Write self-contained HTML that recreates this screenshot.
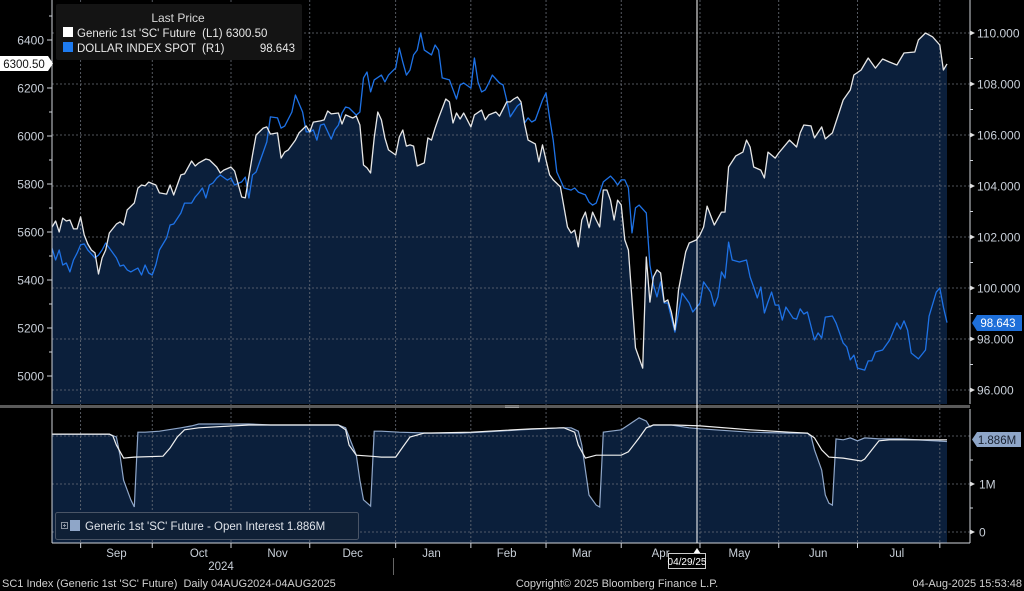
<!DOCTYPE html>
<html><head><meta charset="utf-8">
<style>
html,body{margin:0;padding:0;background:#000;}
svg{display:block;font-family:"Liberation Sans",sans-serif;}
</style></head>
<body>
<svg id="chart" width="1024" height="591" viewBox="0 0 1024 591" xmlns="http://www.w3.org/2000/svg">
<defs>
<clipPath id="topClip"><rect x="52" y="0" width="918" height="404"/></clipPath>
<clipPath id="botClip"><rect x="52" y="409" width="918" height="134"/></clipPath>
</defs>
<rect x="0" y="0" width="1024" height="591" fill="#000"/>
<g id="topSeries" clip-path="url(#topClip)"></g>
<g id="botSeries" clip-path="url(#botClip)"></g>
<g id="axes"></g>
<rect x="0" y="405" width="970" height="3" fill="#5a5a5a"/>
<rect x="505" y="405.5" width="14" height="0.8" fill="#aaa"/>
<rect x="505" y="407" width="14" height="0.8" fill="#aaa"/>
<line x1="697" y1="0" x2="697" y2="543" stroke="#fff" stroke-width="1"/>

<g>
<rect x="56" y="4" width="246" height="56" fill="#141414" rx="2"/>
<text x="178" y="22" fill="#d8d8d8" font-size="12" text-anchor="middle">Last Price</text>
<rect x="63" y="27" width="10" height="10" fill="#fff"/>
<text x="77" y="37" fill="#e8e8e8" font-size="11.5" xml:space="preserve">Generic 1st 'SC' Future  (L1) 6300.50</text>
<rect x="63" y="42" width="10" height="10" fill="#1e7bf0"/>
<text x="77" y="52" fill="#e8e8e8" font-size="11.5" xml:space="preserve">DOLLAR INDEX SPOT  (R1)</text>
<text x="295" y="52" fill="#e8e8e8" font-size="11.5" text-anchor="end">98.643</text>
</g>

<g>
<rect x="55.5" y="512.5" width="303" height="27" fill="#0f2036" stroke="#4a5566" rx="2"/>
<rect x="61.5" y="522.5" width="6" height="6" fill="none" stroke="#8a93a0"/>
<line x1="63" y1="525.5" x2="66" y2="525.5" stroke="#8a93a0"/>
<line x1="64.5" y1="524" x2="64.5" y2="527" stroke="#8a93a0"/>
<rect x="70" y="520" width="10" height="11" fill="#8fa6c8"/>
<text x="85" y="530" fill="#e0e4ea" font-size="11.5">Generic 1st 'SC' Future - Open Interest 1.886M</text>
</g>

<g>
<path d="M0,56 H48 L53,63.5 L48,71 H0 Z" fill="#fff"/>
<text x="24" y="68" fill="#111" font-size="11.5" text-anchor="middle">6300.50</text>
<path d="M977,315 H1022 V331 H977 L972,323 Z" fill="#1e6fd9"/>
<text x="998" y="327" fill="#fff" font-size="11.5" text-anchor="middle">98.643</text>
<path d="M977,432 H1021 V447 H977 L972,439.5 Z" fill="#8fa6c8"/>
<text x="997" y="444" fill="#1a2230" font-size="11.5" text-anchor="middle">1.886M</text>
</g>

<g>
<path d="M693,554 L697,548 L701,554 Z" fill="#fff"/>
<rect x="668.5" y="553.5" width="37" height="15" fill="#000" stroke="#ccc"/>
<text x="687" y="565" fill="#fff" font-size="10" text-anchor="middle">04/29/25</text>
</g>
<line x1="393.5" y1="558" x2="393.5" y2="575" stroke="#666"/>
<text x="221" y="570" fill="#c8cfd8" font-size="11.5" text-anchor="middle">2024</text>

<g>
<text x="2" y="587" fill="#d0d0d0" font-size="11" xml:space="preserve">SC1 Index (Generic 1st 'SC' Future)  Daily 04AUG2024-04AUG2025</text>
<text x="617" y="587" fill="#d0d0d0" font-size="11" text-anchor="middle">Copyright© 2025 Bloomberg Finance L.P.</text>
<text x="1022" y="587" fill="#d0d0d0" font-size="11" text-anchor="end">04-Aug-2025 15:53:48</text>
</g>
</svg>

<script>
// ---- data ----
const scSessions = [0,1,2,3,4,5,6,7,8,9,10,11,12,13,14,15,16,18,19,20,21,23,24,25,26,27,29,30,32,33,34,36,37,39,40,41,43,44,46,47,48,50,51,53,54,56,57,59,60,61,63,64,65,66,68,69,71,72,73,75,76,77,78,80,81,82,84,85,86,87,88,89,90,91,92,93,94,96,97,98,99,100,101,102,104,105,106,107,108,110,111,112,113,114,115,117,118,120,121,122,124,125,127,128,129,130,131,132,133,135,136,137,138,139,140,142,144,145,146,147,148,149,150,151,152,153,154,155,156,157,158,159,160,161,163,165,166,167,168,169,170,171,172,173,174,175,177,178,180,181,182,183,185,187,188,189,191,193,194,195,196,198,199,200,202,203,206,208,209,210,212,213,215,216,218,221,223,224,226,228,230,232,234,236,238,241,242,244,246,248,249,250];
const scValues = [5620,5646,5600,5658,5646,5650,5613,5613,5663,5588,5550,5525,5513,5425,5492,5525,5596,5633,5642,5629,5692,5721,5783,5796,5792,5808,5796,5763,5758,5796,5754,5838,5842,5896,5875,5888,5904,5900,5871,5846,5858,5871,5854,5746,5742,5921,6004,6033,6038,6008,6013,5908,5933,5942,5983,6013,6042,6017,6058,6063,6067,6104,6092,6096,6050,6088,6075,6083,6046,5879,5867,5846,5992,6100,6067,5992,5942,5921,5996,6025,5958,5963,5958,5875,5888,5992,5983,6033,6075,6154,6142,6054,6096,6071,6096,6038,6088,6108,6067,6088,6100,6083,6142,6142,6154,6163,6142,6050,5983,5967,5892,5963,5900,5838,5817,5788,5621,5596,5608,5538,5650,5683,5617,5683,5650,5621,5775,5775,5733,5650,5733,5713,5567,5525,5117,5033,5496,5308,5413,5442,5429,5308,5317,5267,5192,5358,5517,5554,5567,5588,5621,5708,5629,5683,5683,5871,5917,5933,5983,5954,5871,5858,5825,5933,5908,5929,5983,5954,6013,6046,6042,5992,6038,5988,6013,6150,6192,6254,6275,6325,6283,6321,6308,6296,6346,6350,6400,6429,6413,6379,6275,6300.5];

const dxySessions = [0,1,2,3,4,5,6,7,8,9,10,12,13,14,15,16,18,19,20,21,22,23,24,25,26,27,28,29,30,32,33,34,36,37,39,40,41,42,43,44,45,46,47,49,50,51,53,54,55,56,57,59,60,61,63,64,65,67,68,70,71,72,73,74,75,76,78,79,80,81,82,83,85,86,87,88,89,90,92,93,94,96,97,98,99,100,101,102,103,104,106,107,108,109,111,113,114,115,117,118,119,120,121,122,123,125,126,127,128,130,131,132,133,134,135,137,138,139,140,141,142,143,145,146,147,149,150,151,152,153,154,156,157,158,159,160,161,162,163,164,166,167,168,169,170,171,172,174,176,178,179,181,182,184,185,186,187,188,189,190,192,194,195,196,197,198,199,200,201,202,203,204,205,207,208,209,210,211,213,214,215,216,218,219,221,222,223,224,225,227,228,229,230,232,234,236,237,238,239,240,242,244,245,247,248,249,250];
const dxyValues = [101.57,101.10,101.49,100.90,100.98,100.63,101.10,101.37,101.69,101.73,101.49,101.18,101.29,101.49,101.76,101.57,101.18,100.86,100.90,100.71,100.63,100.71,100.78,100.51,100.90,100.59,100.51,100.90,101.49,101.96,102.47,102.51,102.94,103.33,103.33,103.57,103.73,103.92,103.53,104.04,104.12,104.31,104.43,104.23,104.31,104.04,104.16,104.35,103.53,104.43,104.55,105.33,105.73,106.71,106.67,106.27,106.35,106.90,107.57,106.90,106.12,106.12,106.20,105.80,106.39,106.43,105.84,106.20,106.39,106.86,107.10,107.06,106.78,106.90,108.24,108.47,107.69,108.16,108.35,108.08,108.35,108.63,109.41,108.86,108.35,108.55,109.14,109.33,110.00,109.33,109.14,109.53,109.33,108.24,108.16,107.41,107.96,108.04,107.84,109.02,108.08,107.69,107.77,108.04,108.35,108.04,107.96,107.37,106.71,107.14,107.25,106.47,106.67,106.51,106.59,107.37,107.65,106.67,105.80,104.55,104.24,103.92,103.84,103.92,103.76,103.65,103.37,103.25,103.33,103.73,104.16,104.39,104.24,104.04,104.24,104.24,103.92,102.16,103.14,103.25,102.94,100.90,100.12,99.65,100.24,99.41,99.41,98.27,99.80,99.41,99.06,99.41,100.24,99.84,99.29,99.65,100.63,100.39,101.80,101.10,101.02,101.10,100.43,100.04,99.61,100.04,99.02,99.45,99.84,99.33,99.33,98.74,99.25,98.82,98.78,99.18,98.98,99.06,97.96,98.24,98.04,98.86,98.90,98.63,97.84,97.69,97.18,97.37,96.86,96.78,97.14,97.14,97.49,97.57,97.96,98.63,98.39,98.71,98.35,97.45,97.22,97.57,98.90,99.84,100.00,99.25,98.643];

const oiSessions = [0,16,18,19,20,22,23,24,26,30,36,39,41,55,61,69,80,82,83,85,86,87,89,90,92,97,106,114,120,131,142,145,147,148,149,150,152,153,154,156,159,161,164,166,167,168,173,178,181,195,206,211,212,213,215,216,217,218,219,221,223,225,227,231,237,250];
const oiValues = [2.04,2.04,1.98,1.60,1.08,0.67,0.52,2.08,2.08,2.10,2.17,2.21,2.25,2.25,2.23,2.23,2.23,2.17,1.98,1.60,1.08,0.67,0.54,2.10,2.10,2.08,2.06,2.06,2.08,2.13,2.17,2.17,2.10,1.81,1.29,0.77,0.56,0.52,2.08,2.10,2.13,2.23,2.38,2.31,2.19,2.23,2.23,2.17,2.15,2.08,2.06,2.06,2.00,1.71,1.29,0.77,0.60,0.56,1.94,1.92,1.96,1.90,1.96,1.94,1.94,1.886];

const avgSessions = [0,16,17,18,20,23,31,33,35,37,41,55,80,82,83,85,89,92,96,98,100,104,117,134,143,146,147,149,152,159,161,164,166,168,174,181,195,206,211,213,215,217,221,226,227,229,231,234,250];
const avgValues = [2.04,2.04,2.00,1.81,1.54,1.56,1.58,1.75,1.98,2.13,2.17,2.23,2.23,2.13,1.81,1.60,1.58,1.56,1.56,1.77,1.98,2.06,2.08,2.15,2.17,2.08,1.81,1.54,1.60,1.60,1.67,1.96,2.17,2.23,2.23,2.21,2.13,2.08,2.06,1.96,1.71,1.56,1.54,1.48,1.52,1.71,1.90,1.92,1.92];

const monthLabels = ["Sep","Oct","Nov","Dec","Jan","Feb","Mar","Apr","May","Jun","Jul"];
const monthLabelSessions = [18,41,63,84,106,127,148,170,192,214,236];
const gridSessions = [8,28,50,72,96,117,138,159,181,203,225,248];
const leftTicks = [5000,5200,5400,5600,5800,6000,6200,6400];
const rightTicks = [96,98,100,102,104,106,108,110];
const oiTicks = [0,1];
const oiTickLabels = ["0","1M"];

// ---- scales ----
const NS = "http://www.w3.org/2000/svg";
const xS = i => 52 + i * 3.58;
const yL = v => 40 + (6400 - v) * 0.24;
const yR = v => 33 + (110 - v) * 25.5;
const yO = v => 532 - v * 48;

function mk(tag, attrs, parent){
  const e = document.createElementNS(NS, tag);
  for (const k in attrs) e.setAttribute(k, attrs[k]);
  parent.appendChild(e);
  return e;
}
function linePath(sess, vals, ys){
  const len = Math.min(sess.length, vals.length);
  let d = "";
  for (let i = 0; i < len; i++) d += (i ? "L" : "M") + xS(sess[i]).toFixed(1) + "," + ys(vals[i]).toFixed(1);
  return d;
}
function lastX(sess, vals){ return xS(sess[Math.min(sess.length, vals.length) - 1]); }

const topG = document.getElementById("topSeries");
const botG = document.getElementById("botSeries");
const axesG = document.getElementById("axes");

// top panel SC area
const scArea = mk("path", {d: linePath(scSessions, scValues, yL) + "L" + lastX(scSessions, scValues) + ",404L" + xS(scSessions[0]) + ",404Z", fill:"#0b1f3b"}, topG);



// bottom panel OI area
const oiArea = mk("path", {d: linePath(oiSessions, oiValues, yO) + "L" + lastX(oiSessions, oiValues) + ",543L" + xS(oiSessions[0]) + ",543Z", fill:"#0b1f3b"}, botG);



// gridlines
const gridLayer = mk("g", {}, axesG);


gridSessions.forEach(s => {
  const gl = mk("line", {x1:xS(s), x2:xS(s), y1:0, y2:543, stroke:"#6a6f78", "stroke-width":0.8, "stroke-dasharray":"2,2"}, gridLayer);
  
  
});
rightTicks.forEach(v => {
  const gl = mk("line", {x1:52, x2:970, y1:yR(v), y2:yR(v), stroke:"#6a6f78", "stroke-width":0.8, "stroke-dasharray":"2,2"}, gridLayer);
  
  
});
[0,1,2].forEach(v => {
  const gl = mk("line", {x1:52, x2:970, y1:yO(v), y2:yO(v), stroke:"#6a6f78", "stroke-width":0.8, "stroke-dasharray":"2,2"}, gridLayer);
  
  
});

// lines
const lineLayer = mk("g", {"clip-path":"url(#topClip)"}, axesG);
const dxyLine = mk("path", {d: linePath(dxySessions, dxyValues, yR), fill:"none", stroke:"#1e72e6", "stroke-width":1.3, "stroke-linejoin":"round"}, lineLayer);


const scLine = mk("path", {d: linePath(scSessions, scValues, yL), fill:"none", stroke:"#e6e6e6", "stroke-width":1.3, "stroke-linejoin":"round"}, lineLayer);



const botLines = mk("g", {"clip-path":"url(#botClip)"}, axesG);
const oiLine = mk("path", {d: linePath(oiSessions, oiValues, yO), fill:"none", stroke:"#8fa6c8", "stroke-width":1.2}, botLines);


const avgLine = mk("path", {d: linePath(avgSessions, avgValues, yO), fill:"none", stroke:"#f0f0f0", "stroke-width":1.2}, botLines);



// axis lines
[[52,0,52,404],[970,0,970,404],[52,409,52,543],[970,409,970,543],[52,543,970,543]].forEach(c => {
  const al = mk("line", {x1:c[0], y1:c[1], x2:c[2], y2:c[3], stroke:"#cfd3da", "stroke-width":1}, axesG);
  
  
});

// left axis
leftTicks.forEach(v => {
  const y = yL(v);
  mk("line", {x1:47, x2:52, y1:y, y2:y, stroke:"#cfd3da"}, axesG);
  const t = mk("text", {x:44, y:y+4.5, fill:"#c8cfd8", "font-size":12, "text-anchor":"end"}, axesG);
  t.textContent = v;
  
  
  const ym = yL(v + 100);
  mk("line", {x1:49, x2:52, y1:ym, y2:ym, stroke:"#cfd3da"}, axesG);
});
// right axis
rightTicks.forEach(v => {
  const y = yR(v);
  mk("path", {d:"M970,"+(y-2.5)+"L975,"+y+"L970,"+(y+2.5)+"Z", fill:"#e0e0e0"}, axesG);
  const t = mk("text", {x:977, y:y+4.5, fill:"#c8cfd8", "font-size":12}, axesG);
  t.textContent = v.toFixed(3);
  
  
  if (v < 110) {
    const ym = yR(v + 1);
    mk("line", {x1:970, x2:973, y1:ym, y2:ym, stroke:"#cfd3da"}, axesG);
  }
});
// oi axis
oiTicks.forEach((v,i) => {
  const y = yO(v);
  mk("path", {d:"M970,"+(y-2.5)+"L975,"+y+"L970,"+(y+2.5)+"Z", fill:"#e0e0e0"}, axesG);
  const t = mk("text", {x:979, y:y+4.5, fill:"#c8cfd8", "font-size":12}, axesG);
  t.textContent = oiTickLabels[i];
  
  
  const ym = yO(v + 0.5);
  mk("line", {x1:970, x2:973, y1:ym, y2:ym, stroke:"#cfd3da"}, axesG);
});
// x axis
gridSessions.forEach(s => {
  mk("line", {x1:xS(s), x2:xS(s), y1:543, y2:548, stroke:"#cfd3da"}, axesG);
});
monthLabels.forEach((lab,i) => {
  const t = mk("text", {x:xS(monthLabelSessions[i]), y:557, fill:"#c8cfd8", "font-size":11.5, "text-anchor":"middle"}, axesG);
  t.textContent = lab;
  
  
});
</script>
</body></html>
